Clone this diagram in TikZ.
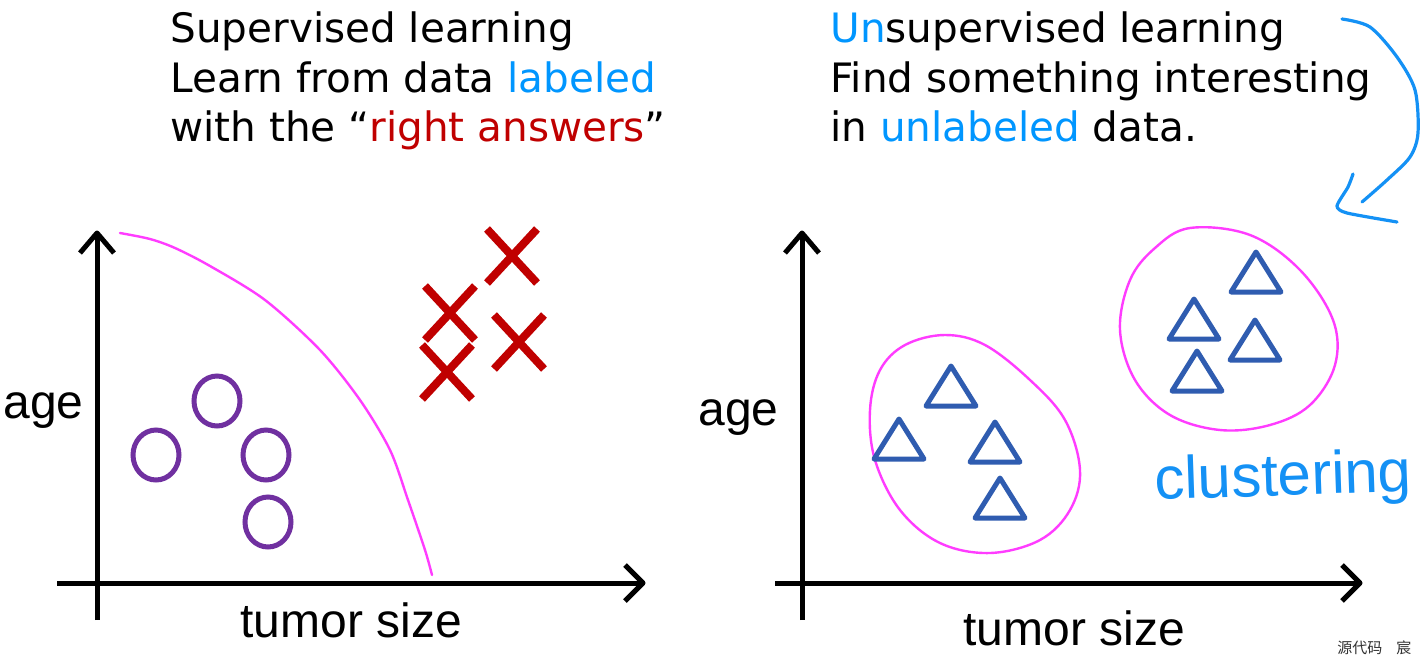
\documentclass[tikz,border=0pt]{standalone}
\usepackage{fontspec}
\setmainfont{DejaVu Sans}
\newfontfamily\axisfont{Liberation Sans}
\newfontfamily\cjkfont{Noto Sans CJK SC}
\definecolor{lblue}{RGB}{0,150,255}
\definecolor{dred}{RGB}{192,0,0}
\definecolor{cpurple}{RGB}{112,48,160}
\definecolor{tblue}{RGB}{47,92,176}
\definecolor{cmag}{RGB}{255,60,255}
\definecolor{hblue}{RGB}{20,145,245}
\definecolor{wgray}{RGB}{50,50,50}
\tikzset{
  hdr/.style={anchor=base west, inner sep=0, font=\fontsize{20.25}{24}\selectfont},
  axlab/.style={anchor=base west, inner sep=0, font=\axisfont\fontsize{24}{28}\selectfont},
  axis/.style={line width=2.5pt},
  chev/.style={line width=2.5pt, line join=round},
  xstyle/.style={draw=dred, line width=4pt},
  cstyle/.style={draw=cpurple, line width=2.5pt},
  tristyle/.style={draw=tblue, line width=2.5pt, line join=round},
  boundary/.style={draw=cmag, line width=1.2pt, line cap=round},
  hand/.style={draw=hblue, line width=1.6pt, line cap=round, line join=round}
}
\newcommand\trimark[2]{\draw[tristyle] (#1-25,#2+20) -- (#1,#2-20) -- (#1+25,#2+20) -- cycle;}
\newcommand\xmarkk[2]{\draw[xstyle] (#1-25,#2-27) -- (#1+25,#2+27) (#1-25,#2+27) -- (#1+25,#2-27);}
\begin{document}
\begin{tikzpicture}[x=0.5pt,y=-0.5pt]
\useasboundingbox[fill=white] (0,0) rectangle (1424,665);
% headers
\node[hdr] (s1) at (170,42) {Supervised learning};
\node[hdr] (s2) at (170,92) {Learn from data \textcolor{lblue}{labeled}};
\node[hdr] (s3) at (170,141) {with the “\textcolor{dred}{right answers}”};
\node[hdr] (u1) at (830,42) {\textcolor{lblue}{Un}supervised learning};
\node[hdr] (u2) at (830,92) {Find something interesting};
\node[hdr] (u3) at (830,141) {in \textcolor{lblue}{unlabeled} data.};
% left axes
\coordinate (ly0) at (97,620); \coordinate (ly1) at (97,233);
\coordinate (lx0) at (57,583); \coordinate (lx1) at (643,583);
\draw[axis] (ly0) -- (ly1);
\draw[axis] (lx0) -- (lx1);
\draw[chev] (80,253) -- (ly1) -- (114,253);
\draw[chev] (625,565) -- (lx1) -- (625,601);
% right axes
\coordinate (ry0) at (802,620); \coordinate (ry1) at (802,233);
\coordinate (rx0) at (775,583); \coordinate (rx1) at (1360,583);
\draw[axis] (ry0) -- (ry1);
\draw[axis] (rx0) -- (rx1);
\draw[chev] (785,253) -- (ry1) -- (819,253);
\draw[chev] (1342,565) -- (rx1) -- (1342,601);
% axis labels
\node[axlab] (ageL) at (3,418) {age};
\node[axlab] (tsL) at (240,637) {tumor size};
\node[axlab] (ageR) at (698,425) {age};
\node[axlab] (tsR) at (963,645) {tumor size};
% boundary curve
\draw[boundary] plot[smooth] coordinates {(120,233) (150,239) (175,248) (210,266) (265,300) (320,350) (360,400) (390,450) (408,500) (425,550) (432,575)};
% circles
\draw[cstyle] (217,401) ellipse [x radius=23, y radius=25];
\draw[cstyle] (156,455) ellipse [x radius=23, y radius=25];
\draw[cstyle] (266,455) ellipse [x radius=23, y radius=25];
\draw[cstyle] (268,522) ellipse [x radius=23, y radius=25];
% crosses
\xmarkk{512}{256}
\xmarkk{450}{313}
\xmarkk{519}{342}
\xmarkk{447}{372}
% clusters
\draw[boundary] plot[smooth cycle, tension=0.6] coordinates {(945,335) (985,345) (1030,380) (1065,420) (1080,470) (1070,510) (1040,540) (990,553) (940,543) (900,510) (875,460) (870,410) (880,370) (905,345)};
\draw[boundary] plot[smooth cycle, tension=0.6] coordinates {(1190,228) (1250,235) (1300,270) (1333,320) (1335,365) (1310,405) (1270,425) (1220,430) (1170,415) (1135,380) (1120,330) (1130,280) (1155,248)};
\trimark{951}{386}
\trimark{899}{439}
\trimark{995}{442}
\trimark{1000}{498}
\trimark{1256}{272}
\trimark{1194}{319}
\trimark{1255}{340}
\trimark{1197}{371}
% handwriting
\node[anchor=base west, inner sep=0, font=\axisfont\fontsize{30}{34}\selectfont, text=hblue, rotate=2] (clu) at (1155,500) {clustering};
\draw[hand] plot[smooth] coordinates {(1342,19) (1370,27) (1397,57) (1415,90) (1418,133) (1410,157) (1387,180) (1362,202)};
\draw[hand] plot[smooth, tension=0.4] coordinates {(1353,174) (1348,187) (1337,206) (1347,213) (1397,222)};
% watermark
\node[anchor=base west, inner sep=0, font=\cjkfont\fontsize{7.5}{9}\selectfont, text=wgray] (wm) at (1337,653) {源代码\hspace{7pt}宸};
\end{tikzpicture}
\end{document}
